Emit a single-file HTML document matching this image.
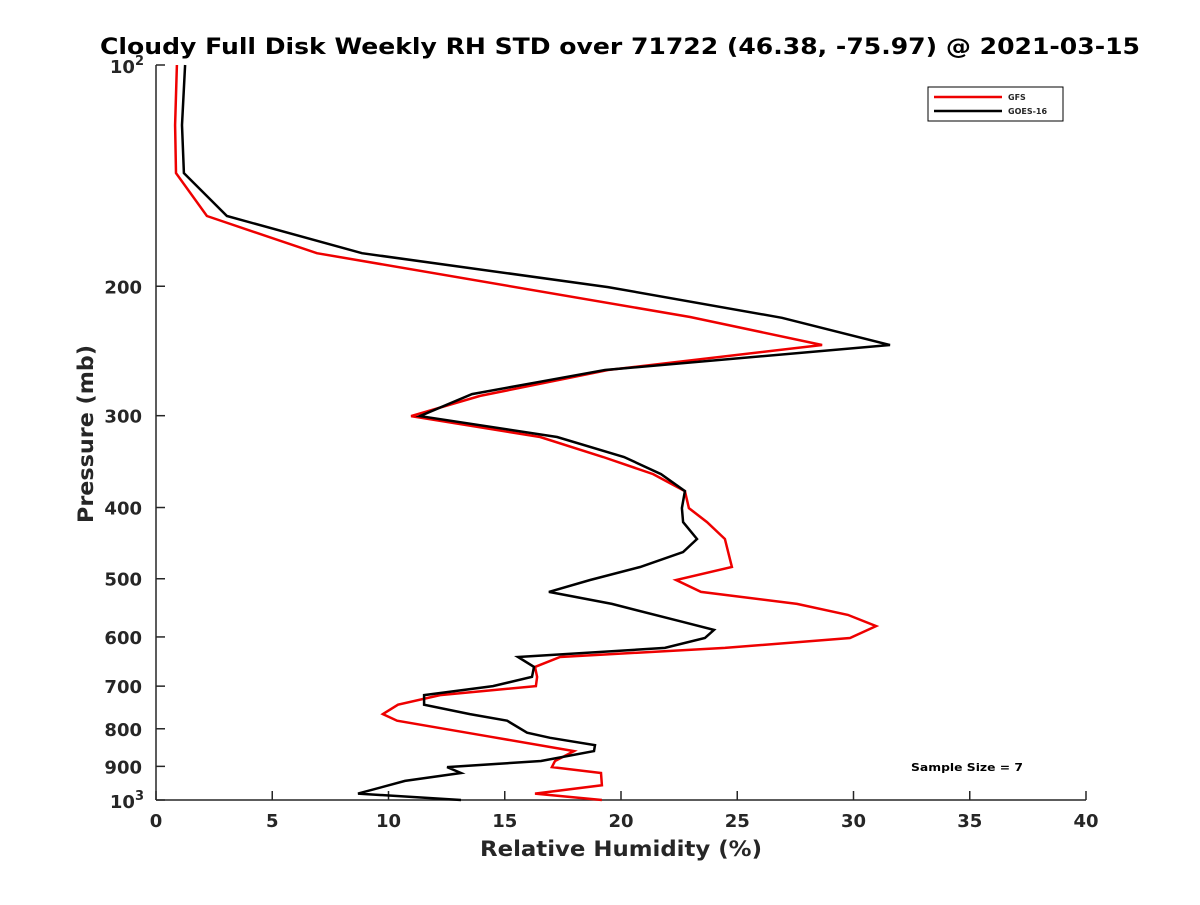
<!DOCTYPE html>
<html><head><meta charset="utf-8"><style>
body{margin:0;background:#fff;}
svg text{font-family:"DejaVu Sans","Liberation Sans",sans-serif;font-weight:bold;fill:#262626;}
</style></head><body>
<svg id="chart" width="1200" height="900" viewBox="0 0 1200 900">
<rect width="1200" height="900" fill="#fff"/>
<text x="620" y="54" text-anchor="middle" font-size="22" textLength="1040" lengthAdjust="spacingAndGlyphs" style="fill:#000">Cloudy Full Disk Weekly RH STD over 71722 (46.38, -75.97) @ 2021-03-15</text>
<g id="axes"></g>
<g id="series"></g>
<g>
<rect x="928" y="87" width="135" height="34" fill="#fff" stroke="#000" stroke-width="1"/>
<line x1="934" y1="97" x2="1002" y2="97" stroke="#e00" stroke-width="2.5"/>
<text x="1008" y="100" font-size="8">GFS</text>
<line x1="934" y1="111" x2="1002" y2="111" stroke="#000" stroke-width="2.5"/>
<text x="1008" y="114" font-size="8">GOES-16</text>
</g>
<text x="967" y="771" text-anchor="middle" font-size="11" textLength="112" lengthAdjust="spacingAndGlyphs" style="fill:#000">Sample Size = 7</text>
<text x="621" y="856" text-anchor="middle" font-size="21" textLength="282" lengthAdjust="spacingAndGlyphs">Relative Humidity (%)</text>
<text transform="translate(93,434) rotate(-90)" text-anchor="middle" font-size="21" textLength="178" lengthAdjust="spacingAndGlyphs">Pressure (mb)</text>
</svg>
<script>
const xTicks=[0,5,10,15,20,25,30,35,40];
const yTicks=[200,300,400,500,600,700,800,900];
const gfsP=[100,120.7,140.3,160.5,180.3,220.2,240.4,260,282,300.4,320.7,341.5,360.2,379.9,400.7,418.7,441.5,482,502,521,541,560,580,602,621,639,659,680,700,720,742,764,780,820,858,885,902,919,955,980,1000];
const gfsRH=[0.9,0.82,0.86,2.19,6.92,22.97,28.65,19.44,13.94,10.97,16.52,19.23,21.38,22.75,22.92,23.7,24.47,24.77,22.37,23.44,27.57,29.76,30.97,29.85,24.47,17.38,16.3,16.39,16.34,12.22,10.41,9.76,10.37,14.37,17.98,17.16,17.03,19.14,19.18,16.3,19.18];
const goesP=[100,120.7,140.3,160.5,180.3,200.5,220.8,240.4,260,280.4,300.4,320.7,341.5,360.2,379.9,400.7,418.7,441.5,459.8,482,502,521,541,572,587,602,621,639,659,680,700,720,742,764,780,810,823,842,858,885,902,919,942,980,1000];
const goesRH=[1.25,1.12,1.2,3.05,8.86,19.44,26.92,31.57,19.31,13.59,11.35,17.25,20.13,21.72,22.75,22.62,22.67,23.27,22.67,20.82,18.67,16.9,19.61,22.62,24.0,23.61,21.89,15.57,16.26,16.17,14.49,11.53,11.53,13.5,15.1,15.96,16.95,18.88,18.84,16.56,12.52,13.12,10.71,8.69,13.12];
const NS="http://www.w3.org/2000/svg";
const X0=156,X1=1086,Y0=65,Y1=800;
const xs=v=>X0+(v/40)*(X1-X0);
const ys=p=>Y0+Math.log10(p/100)*(Y1-Y0);
function mk(tag,attrs,parent){const e=document.createElementNS(NS,tag);for(const k in attrs)e.setAttribute(k,attrs[k]);parent.appendChild(e);return e;}
const ax=document.getElementById('axes');
let l=mk('line',{x1:X0,y1:Y0,x2:X0,y2:Y1,stroke:'#262626','stroke-width':1.5},ax);


l=mk('line',{x1:X0,y1:Y1,x2:X1,y2:Y1,stroke:'#262626','stroke-width':1.5},ax);


xTicks.forEach(v=>{
  const t=mk('line',{x1:xs(v),y1:Y1,x2:xs(v),y2:Y1-9,stroke:'#262626','stroke-width':1.5},ax);
  
  
  const tx=mk('text',{x:xs(v),y:Y1+27,'text-anchor':'middle','font-size':18},ax);
  tx.textContent=v;
  
  
});
[100].concat(yTicks).concat([1000]).forEach(p=>{
  const t=mk('line',{x1:X0,y1:ys(p),x2:X0+9,y2:ys(p),stroke:'#262626','stroke-width':1.5},ax);
  
  
});
yTicks.forEach(p=>{
  const tx=mk('text',{x:X0-14,y:ys(p)+7,'text-anchor':'end','font-size':18},ax);
  tx.textContent=p;
  
  
});
[[100,'2'],[1000,'3']].forEach(([p,e])=>{
  const tx=mk('text',{x:X0-12,y:ys(p)+8,'text-anchor':'end','font-size':18},ax);
  tx.innerHTML='10<tspan dy="-8" font-size="13">'+e+'</tspan>';
  
  
});
const sg=document.getElementById('series');
function line(P,R,color,name){
  const d=P.map((p,i)=>(i?'L':'M')+xs(R[i]).toFixed(1)+','+ys(p).toFixed(1)).join(' ');
  const pa=mk('path',{d:d,fill:'none',stroke:color,'stroke-width':2.5,'stroke-linejoin':'miter'},sg);
  
  
}
line(gfsP,gfsRH,'#e00','gfs-line');
line(goesP,goesRH,'#000','goes16-line');
</script>
</body></html>
